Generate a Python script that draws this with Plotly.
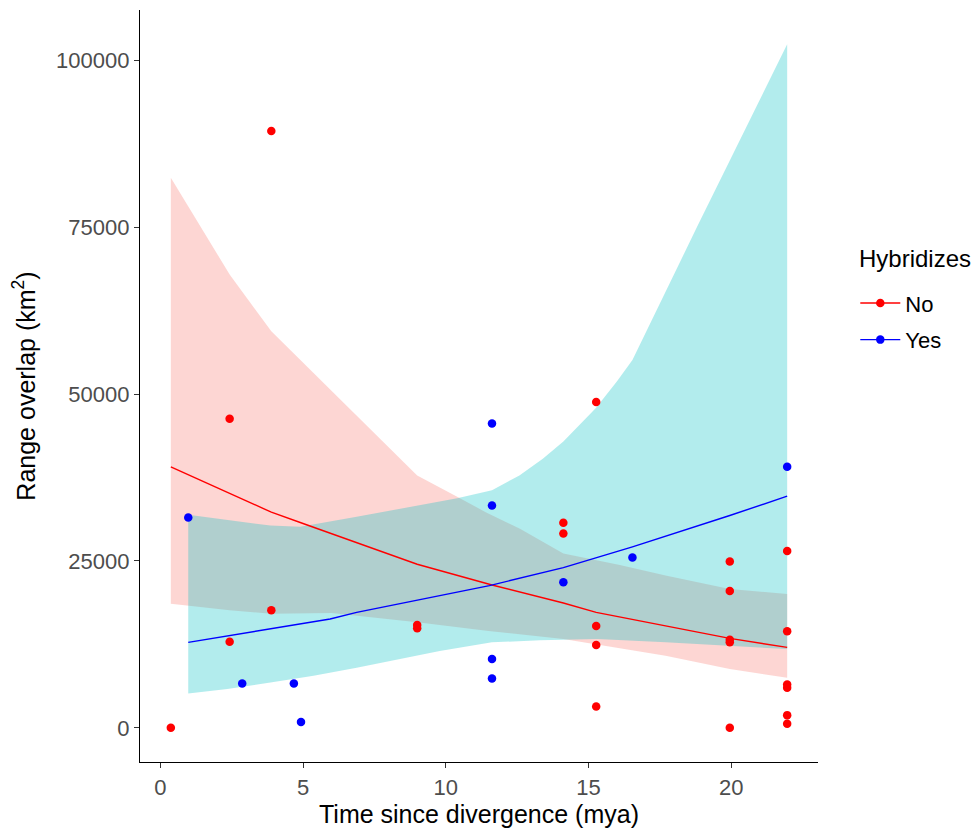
import plotly.graph_objects as go

# ---- data (values in km^2) ----
no_x = [0.37, 2.43, 2.43, 3.89, 3.89, 9.0, 9.0, 14.12, 14.12, 15.27, 15.27, 15.27, 15.27,
        19.95, 19.95, 19.95, 19.95, 19.95, 21.96, 21.96, 21.96, 21.96, 21.96, 21.96]
no_y = [0, 46300, 12900, 89400, 17600, 15400, 14900, 30700, 29100, 48800, 15250, 12400, 3200,
        24900, 20500, 13200, 12800, 0, 26500, 14450, 6500, 6000, 1900, 600]

yes_x = [0.98, 2.87, 4.68, 4.93, 11.62, 11.62, 11.62, 11.62, 14.12, 16.54, 21.96]
yes_y = [31500, 6640, 6640, 870, 45600, 33300, 10300, 7400, 21800, 25500, 39100]

# fitted curves
no_fit_x = [0.37, 2.43, 3.89, 5.0, 9.0, 11.62, 14.12, 15.27, 19.95, 21.96]
no_fit_y = [39100, 35100, 32300, 30600, 24500, 21400, 18700, 17300, 13400, 12050]
yes_fit_x = [0.98, 5.95, 6.88, 11.53, 14.12, 16.54, 19.95, 21.96]
yes_fit_y = [12800, 16300, 17300, 21300, 24000, 27100, 31800, 34700]

# confidence bands
no_up_x = [0.37, 2.43, 3.89, 9.0, 10.4, 11.4, 12.6, 14.12, 16.1, 17.7, 19.95, 21.96]
no_up_y = [82400, 67900, 59400, 37800, 34600, 32300, 29800, 26100, 24400, 22800, 20800, 20050]
no_lo_x = [0.37, 2.43, 3.89, 6.0, 9.0, 11.5, 14.12, 15.27, 17.7, 19.95, 21.96]
no_lo_y = [18600, 17600, 17100, 17200, 15800, 14500, 13300, 12500, 10800, 8800, 7500]

yes_up_x = [0.98, 2.35, 3.86, 4.9, 6.88, 10.4, 11.62, 12.58, 13.4, 14.12, 15.26, 16.0, 16.54, 18.8, 21.96]
yes_up_y = [31900, 31100, 30300, 30100, 31600, 34400, 35600, 37800, 40300, 42900, 47900, 51900, 55100, 75000, 102400]
yes_lo_x = [0.98, 2.35, 3.86, 5.37, 6.88, 9.79, 11.62, 13.3, 15.3, 17.7, 19.97, 21.96]
yes_lo_y = [5150, 5800, 6800, 7800, 9000, 11500, 12800, 13100, 13300, 12800, 12300, 11800]

x_ticks = [0, 5, 10, 15, 20]
y_ticks = [0, 25000, 50000, 75000, 100000]
y_ticktext = ["0", "25000", "50000", "75000", "100000"]

RED = "#FF0000"
BLUE = "#0000FF"
FONT = "Liberation Sans, Arial, sans-serif"

fig = go.Figure()

# ribbons
fig.add_trace(go.Scatter(x=no_up_x + no_lo_x[::-1], y=no_up_y + no_lo_y[::-1],
                         fill="toself", fillcolor="rgba(248,118,109,0.3)",
                         line=dict(width=0), mode="lines", hoverinfo="skip", showlegend=False))
fig.add_trace(go.Scatter(x=yes_up_x + yes_lo_x[::-1], y=yes_up_y + yes_lo_y[::-1],
                         fill="toself", fillcolor="rgba(0,191,196,0.3)",
                         line=dict(width=0), mode="lines", hoverinfo="skip", showlegend=False))

# fit lines
fig.add_trace(go.Scatter(x=no_fit_x, y=no_fit_y, mode="lines", line=dict(color=RED, width=1.4),
                         showlegend=False))
fig.add_trace(go.Scatter(x=yes_fit_x, y=yes_fit_y, mode="lines", line=dict(color=BLUE, width=1.4),
                         showlegend=False))

# points
fig.add_trace(go.Scatter(x=no_x, y=no_y, mode="markers", marker=dict(color=RED, size=8.5),
                         showlegend=False))
fig.add_trace(go.Scatter(x=yes_x, y=yes_y, mode="markers", marker=dict(color=BLUE, size=8.5),
                         showlegend=False))

# legend entries
fig.add_trace(go.Scatter(x=[None], y=[None], mode="lines+markers", name="No", legendgroup="no",
                         line=dict(color=RED, width=1.4), marker=dict(color=RED, size=8.5)))
fig.add_trace(go.Scatter(x=[None], y=[None], mode="lines+markers", name="Yes", legendgroup="yes",
                         line=dict(color=BLUE, width=1.4), marker=dict(color=BLUE, size=8.5)))

# legend title as annotation (for ggplot-like spacing)
fig.add_annotation(text="Hybridizes", xref="paper", yref="paper", x=1.058, y=0.670,
                   xanchor="left", yanchor="middle", showarrow=False,
                   font=dict(size=24, color="black", family=FONT))

# page body has an 8px margin: size/margins compensate so the panel lands at 140..818 x 10..762
fig.update_layout(
    width=971, height=823,
    margin=dict(l=132, r=161, t=2, b=69, autoexpand=False),
    plot_bgcolor="white", paper_bgcolor="white",
    font=dict(family=FONT, color="black"),
    legend=dict(font=dict(size=22, color="black"),
                x=1.055, xanchor="left", y=0.638, yanchor="top",
                itemwidth=40,
                bgcolor="rgba(0,0,0,0)", tracegroupgap=5),
    xaxis=dict(range=[-0.71, 23.04], tickvals=x_ticks, showgrid=False, zeroline=False,
               showline=True, linecolor="black", linewidth=1.2, automargin=False,
               ticks="outside", ticklen=5, tickcolor="#333333", tickwidth=1.2,
               tickfont=dict(size=22, color="#4D4D4D", family=FONT),
               title=dict(text="Time since divergence (mya)", font=dict(size=25, color="black"),
                          standoff=4)),
    yaxis=dict(range=[-5120, 107520], tickvals=y_ticks, ticktext=y_ticktext,
               showgrid=False, zeroline=False, automargin=False,
               showline=True, linecolor="black", linewidth=1.2,
               ticks="outside", ticklen=5, tickcolor="#333333", tickwidth=1.2,
               tickfont=dict(size=22, color="#4D4D4D", family=FONT),
               title=dict(text="Range overlap (km<sup>2</sup>)", font=dict(size=25, color="black"),
                          standoff=16)),
)

fig.write_html("out.html")
